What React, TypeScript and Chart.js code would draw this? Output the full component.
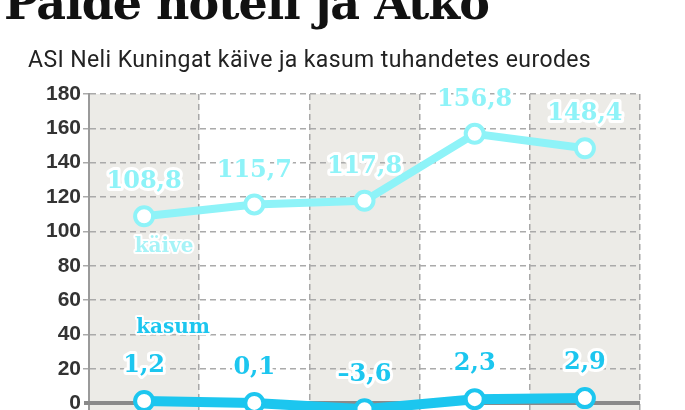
import React, { useEffect, useRef } from "react";
import { Chart, registerables } from "chart.js";

Chart.register(...registerables);

const categories = ["1", "2", "3", "4", "5"];
const kaive = [108.8, 115.7, 117.8, 156.8, 148.4];
const kasum = [1.2, 0.1, -3.6, 2.3, 2.9];
const kaiveLabels = ["108,8", "115,7", "117,8", "156,8", "148,4"];
const kasumLabels = ["1,2", "0,1", "–3,6", "2,3", "2,9"];
const yTicks = [0, 20, 40, 60, 80, 100, 120, 140, 160, 180];
const titleText = "Palde hotell ja Atko";
const subtitleText = "ASI Neli Kuningat käive ja kasum tuhandetes eurodes";
const seriesNames = ["käive", "kasum"];
const seriesNamePos = [91, 44];

const KAIVE_COLOR = "#8ef3f8";
const KASUM_COLOR = "#1cc6ef";
const SLAB = "'DejaVu Serif', serif";

const bandsPlugin = {
  id: "bands",
  beforeDraw(chart: any) {
    const { ctx, chartArea, scales } = chart;
    const x = scales.x;
    const half = (x.getPixelForValue(1) - x.getPixelForValue(0)) / 2;
    ctx.save();
    ctx.fillStyle = "#ecebe7";
    categories.forEach((_, i) => {
      if (i % 2 === 0) {
        const c = x.getPixelForValue(i);
        ctx.fillRect(c - half, chartArea.top, half * 2, chartArea.bottom - chartArea.top);
      }
    });
    ctx.restore();
  },
  beforeDatasetsDraw(chart: any) {
    const { ctx, chartArea, scales } = chart;
    const y0 = scales.y.getPixelForValue(0);
    ctx.save();
    ctx.strokeStyle = "#8a8a8a";
    ctx.lineWidth = 4;
    ctx.beginPath();
    ctx.moveTo(chartArea.left - 5, y0);
    ctx.lineTo(chartArea.right, y0);
    ctx.stroke();
    ctx.restore();
  },
};

const labelsPlugin = {
  id: "valueLabels",
  afterDatasetsDraw(chart: any) {
    const { ctx, scales } = chart;
    const x = scales.x;
    const y = scales.y;
    ctx.save();
    ctx.textAlign = "center";
    ctx.textBaseline = "middle";
    ctx.lineJoin = "round";
    const draw = (text: string, px: number, py: number, color: string, font: string, lw: number) => {
      ctx.font = font;
      ctx.lineWidth = lw;
      ctx.strokeStyle = "#ffffff";
      ctx.strokeText(text, px, py);
      ctx.fillStyle = color;
      ctx.fillText(text, px, py);
    };
    const bigFont = `bold 24px ${SLAB}`;
    kaive.forEach((v, i) => {
      draw(kaiveLabels[i], x.getPixelForValue(i), y.getPixelForValue(v) - 34, KAIVE_COLOR, bigFont, 6);
    });
    kasum.forEach((v, i) => {
      draw(kasumLabels[i], x.getPixelForValue(i), y.getPixelForValue(v) - 35, KASUM_COLOR, bigFont, 6);
    });
    const smallFont = `bold 20px ${SLAB}`;
    draw(seriesNames[0], x.getPixelForValue(0) + 20, y.getPixelForValue(seriesNamePos[0]), "#a6f3f7", smallFont, 4);
    draw(seriesNames[1], x.getPixelForValue(0) + 29, y.getPixelForValue(seriesNamePos[1]), KASUM_COLOR, smallFont, 4);
    ctx.restore();
  },
};

export default function App() {
  const ref = useRef<HTMLCanvasElement | null>(null);
  useEffect(() => {
    if (!ref.current) return;
    const chart = new Chart(ref.current, {
      type: "line",
      data: {
        labels: categories,
        datasets: [
          {
            data: kaive,
            borderColor: KAIVE_COLOR,
            borderWidth: 8,
            pointRadius: 9,
            pointBorderWidth: 4,
            pointBackgroundColor: "#ffffff",
            pointBorderColor: KAIVE_COLOR,
            tension: 0,
          },
          {
            data: kasum,
            borderColor: KASUM_COLOR,
            borderWidth: 10,
            pointRadius: 9,
            pointBorderWidth: 4,
            pointBackgroundColor: "#ffffff",
            pointBorderColor: KASUM_COLOR,
            tension: 0,
          },
        ],
      },
      options: {
        responsive: false,
        animation: false,
        layout: { padding: { top: 94, right: 45, bottom: 0, left: 0 } },
        plugins: { legend: { display: false }, tooltip: { enabled: false }, title: { display: false } },
        scales: {
          x: {
            offset: true,
            ticks: { display: false },
            afterFit(scale: any) {
              scale.height = 0;
            },
            grid: {
              offset: true,
              drawTicks: false,
              color: "#a8a8a8",
              lineWidth: 1.5,
            },
            border: { display: false, dash: [6, 4] } as any,
          },
          y: {
            min: -6,
            max: 180,
            afterBuildTicks(scale: any) {
              scale.ticks = yTicks.map((v) => ({ value: v }));
            },
            afterFit(scale: any) {
              scale.width = 89;
            },
            ticks: {
              color: "#333333",
              font: { family: "'Liberation Sans', Arial, sans-serif", size: 21, weight: "bold" },
              padding: 2,
            },
            border: { display: true, color: "#9a9a9a", width: 2, dash: [6, 4] } as any,
            grid: {
              tickLength: 6,
              color: (c: any) => (c.tick && c.tick.value === 0 ? "rgba(0,0,0,0)" : "#aaaaaa"),
              lineWidth: 1.5,
            },
          },
        },
      },
      plugins: [bandsPlugin, labelsPlugin],
    });
    return () => chart.destroy();
  }, []);

  return (
    <div style={{ position: "fixed", left: 0, top: 0, width: 685, height: 410, overflow: "hidden", background: "#fff" }}>
      <canvas ref={ref} width={685} height={428} style={{ position: "absolute", left: 0, top: 0 }} />
      <div
        style={{
          position: "absolute",
          left: 4,
          top: -25,
          fontFamily: "'DejaVu Serif', serif",
          fontWeight: "bold",
          fontSize: 46,
          lineHeight: "56px",
          color: "#111",
          whiteSpace: "nowrap",
          letterSpacing: -1,
        }}
      >
        {titleText}
      </div>
      <div
        style={{
          position: "absolute",
          left: 28,
          top: 46,
          fontFamily: "Roboto, sans-serif",
          fontSize: 23,
          lineHeight: "28px",
          color: "#222",
          whiteSpace: "nowrap",
          letterSpacing: 0.4,
        }}
      >
        {subtitleText}
      </div>
    </div>
  );
}
